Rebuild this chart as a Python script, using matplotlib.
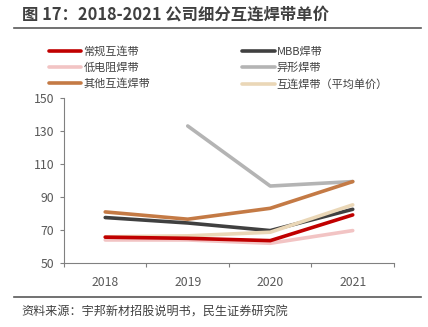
import numpy as np
import matplotlib.pyplot as plt
from matplotlib.lines import Line2D

plt.rcParams['font.family'] = ['Noto Sans CJK SC', 'DejaVu Sans']

years = ['2018', '2019', '2020', '2021']
changgui = [65.8, 65.1, 63.7, 79.3]       # 常规互连带
didianzu = [64.1, 64.1, 62.1, 69.8]       # 低电阻焊带
qita = [81.1, 76.7, 83.3, 99.5]           # 其他互连焊带
mbb = [77.7, 74.4, 69.8, 82.7]            # MBB焊带
yixing = [np.nan, 133.2, 96.8, 99.5]      # 异形焊带
pingjun = [66.0, 66.6, 68.8, 85.4]        # 互连焊带（平均单价）

series = [
    ('常规互连带', changgui, '#C00000'),
    ('低电阻焊带', didianzu, '#F2C4C4'),
    ('其他互连焊带', qita, '#C47A45'),
    ('MBB焊带', mbb, '#404040'),
    ('异形焊带', yixing, '#B4B4B4'),
    ('互连焊带（平均单价）', pingjun, '#EAD7B7'),
]
# drawing order: back to front
z_order = {'异形焊带': 1, '其他互连焊带': 2, 'MBB焊带': 3, '低电阻焊带': 2,
           '互连焊带（平均单价）': 4, '常规互连带': 5}

fig = plt.figure(figsize=(4.28, 3.27), dpi=100)
ax = fig.add_axes([0.1495, 0.195, 0.771, 0.5045])

x = np.arange(len(years))
handles = []
for name, vals, color in series:
    h, = ax.plot(x, vals, color=color, lw=2.6, label=name,
                 solid_capstyle='round', zorder=z_order[name])
    handles.append(h)

ax.set_xlim(-0.5, 3.5)
ax.set_ylim(50, 150)
ax.set_yticks([50, 70, 90, 110, 130, 150])
ax.set_xticks(x)
ax.set_xticklabels(years)
ax.set_xticks(np.arange(-0.5, 4, 1), minor=True)
ax.tick_params(axis='x', which='major', length=0, pad=9, labelsize=8.8, labelcolor='#595959')
ax.tick_params(axis='x', which='minor', length=3, color='#808080', width=0.8)
ax.tick_params(axis='y', length=3, color='#808080', width=0.8, labelsize=8.8,
               labelcolor='#595959', pad=4)
for s in ['top', 'right']:
    ax.spines[s].set_visible(False)
for s in ['left', 'bottom']:
    ax.spines[s].set_color('#808080')
    ax.spines[s].set_linewidth(0.8)

fig.legend(handles=handles, ncol=2, loc='upper left', bbox_to_anchor=(0.1145, 0.86),
           frameon=False, fontsize=8, handlelength=2.9, handletextpad=0.2,
           columnspacing=8.3, labelspacing=0.53, labelcolor='#404040',
           borderaxespad=0, borderpad=0)

# title and source with rules
fig.text(0.051, 0.955, '图 17：2018-2021 公司细分互连焊带单价', fontsize=11.8,
         fontweight='bold', color='#404040', va='center', ha='left')
fig.add_artist(Line2D([0.033, 0.983], [0.914, 0.914], color='#595959', lw=1.2))
fig.add_artist(Line2D([0.033, 0.983], [0.092, 0.092], color='#595959', lw=1.2))
fig.text(0.051, 0.045, '资料来源：宇邦新材招股说明书，民生证券研究院', fontsize=8.7,
         color='#404040', va='center', ha='left')

fig.savefig('out.png', dpi=100)
